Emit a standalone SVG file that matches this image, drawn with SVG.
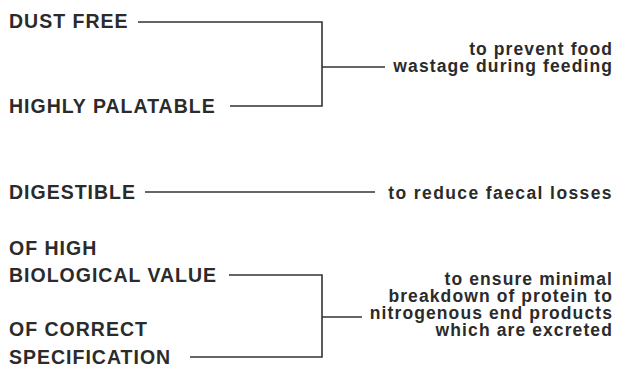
<svg xmlns="http://www.w3.org/2000/svg" width="617" height="370" viewBox="0 0 617 370">
<style>
.l{font-family:"Liberation Sans",Arial,sans-serif;font-weight:bold;font-size:19.5px;letter-spacing:1px;fill:#2b2b2b}
.r{font-family:"Liberation Sans",Arial,sans-serif;font-weight:bold;font-size:17.5px;letter-spacing:1.1px;fill:#2b2b2b;text-anchor:end}
.c{fill:none;stroke:#333;stroke-width:1.6}
</style>
<rect width="617" height="370" fill="#fff"/>
<g id="connectors">
<path class="c" d="M138 22H322V106H230M322 67H385"/>
<path class="c" d="M145 192H375"/>
<path class="c" d="M229 275H322V357H190M322 317H362"/>
</g>
<g id="dust-free"><text class="l" x="9" y="28">DUST FREE</text></g>
<g id="highly-palatable"><text class="l" x="9" y="113">HIGHLY PALATABLE</text></g>
<g id="prevent-wastage"><text class="r" x="613" y="55">to prevent food</text><text class="r" x="613" y="72">wastage during feeding</text></g>
<g id="digestible"><text class="l" x="9" y="199">DIGESTIBLE</text></g>
<g id="reduce-losses"><text class="r" x="613" y="199" style="letter-spacing:1.4px">to reduce faecal losses</text></g>
<g id="biological-value"><text class="l" x="9" y="255">OF HIGH</text><text class="l" x="9" y="282">BIOLOGICAL VALUE</text></g>
<g id="correct-spec"><text class="l" x="9" y="336">OF CORRECT</text><text class="l" x="9" y="364">SPECIFICATION</text></g>
<g id="protein-breakdown"><text class="r" x="613" y="285">to ensure minimal</text><text class="r" x="613" y="302">breakdown of protein to</text><text class="r" x="613" y="319">nitrogenous end products</text><text class="r" x="613" y="336">which are excreted</text></g>
</svg>
